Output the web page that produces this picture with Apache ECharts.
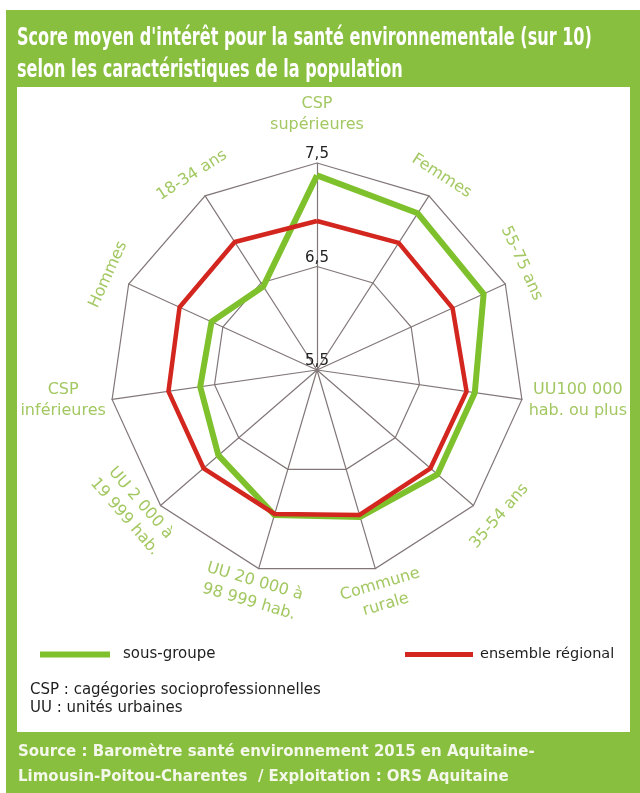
<!DOCTYPE html>
<html><head><meta charset="utf-8">
<script src="https://cdn.jsdelivr.net/npm/echarts@6/dist/echarts.min.js"></script>
<style>html,body{margin:0;padding:0;background:#fff}#c{width:640px;height:793px}</style>
</head><body><div id="c"></div>
<script>
// ---- data (listed clockwise from the top) ----
const categories = ['CSP\nsupérieures','Femmes','55-75 ans','UU100 000\nhab. ou plus','35-54 ans','Commune\nrurale','UU 20 000 à\n98 999 hab.','UU 2 000 à\n19 999 hab.','CSP\ninférieures','Hommes','18-34 ans'];
const sousGroupe = [7.38, 7.30, 7.27, 7.04, 7.04, 6.98, 6.96, 6.76, 6.64, 6.62, 6.46];
const ensembleRegional = [6.94, 6.96, 6.94, 6.96, 6.95, 6.96, 6.95, 6.95, 6.95, 6.96, 6.97];
const axisMin = 5.5, axisMax = 7.5;
const seriesNames = ['sous-groupe', 'ensemble régional'];
const titleLines = ["Score moyen d'intérêt pour la santé environnementale (sur 10)", "selon les caractéristiques de la population"];
const notes = ['CSP : cagégories socioprofessionnelles', 'UU : unités urbaines'];
const sourceText = 'Source : Baromètre santé environnement 2015 en Aquitaine-\nLimousin-Poitou-Charentes  / Exploitation : ORS Aquitaine';

// ---- styles ----
const GREEN_FRAME = '#89BF3E';
const GREEN_LINE = '#7EC12C';
const RED_LINE = '#D3261F';
const LABEL_GREEN = '#A3C862';
const GRID = '#827778';
const FONT = 'DejaVu Sans, sans-serif';
const n = categories.length;
const nameGaps = [28, 13, 13, 6, 16, 6, 3, 3, 4, 12, 14];
const nameStyles = {
  2: { padding: [0, 24, 0, 0] },
  3: { align: 'center', padding: [-12, 0, 0, 100] },
  4: { padding: [0, 0, 0, 18] },
  7: { padding: [0, 30, 0, 0] },
  8: { align: 'center', padding: [-12, 90, 0, 0] }
};

// tangent rotation of each name (kept readable); 0 = horizontal
function nameRot(i) {
  if (i === 0 || i === 3 || i === 8) return 0;
  const deg = i * 360 / n;
  return (deg > 90 && deg < 270) ? 180 - deg : -deg;
}

// ECharts radar runs counter-clockwise: present indicators in reversed order after the first
const order = [0].concat(Array.from({ length: n - 1 }, (_, k) => n - 1 - k));

const indicator = order.map(i => {
  const o = { name: categories[i], min: axisMin, max: axisMax, nameGap: nameGaps[i] };
  const r = nameRot(i);
  if (r !== 0) o.nameRotate = r;
  if (nameStyles[i]) o.nameTextStyle = nameStyles[i];
  if (i === 0) {
    o.axisLabel = {
      show: true, margin: 0, color: '#222', fontSize: 15, fontFamily: FONT,
      align: 'center', verticalAlign: 'bottom', padding: [0, 0, 1, 0],
      formatter: v => String(v).replace('.', ',')
    };
  }
  return o;
});

const chart = echarts.init(document.getElementById('c'), null, { renderer: 'canvas' });
chart.setOption({
  animation: false,
  backgroundColor: '#fff',
  graphic: [
    { type: 'rect', shape: { x: 6, y: 10, width: 640, height: 790 }, style: { fill: GREEN_FRAME }, z: -10 },
    { type: 'rect', shape: { x: 17, y: 87, width: 613, height: 645 }, style: { fill: '#fff' }, z: -9 },
    { type: 'text', x: 17, y: 27, scaleX: 0.67, style: { text: titleLines[0], fill: '#fff', fontSize: 24, fontWeight: 'bold', fontFamily: FONT } },
    { type: 'text', x: 17, y: 59, scaleX: 0.67, style: { text: titleLines[1], fill: '#fff', fontSize: 24, fontWeight: 'bold', fontFamily: FONT } },
    { type: 'text', left: 30, top: 681, style: { text: notes.join('\n'), fill: '#1e1e1e', fontSize: 15, lineHeight: 18, fontFamily: FONT } },
    { type: 'text', left: 18, top: 740, style: { text: sourceText, fill: '#F4F8EA', fontSize: 15, fontWeight: 'bold', lineHeight: 25, fontFamily: FONT } }
  ],
  legend: [
    { data: [seriesNames[0]], left: 35, top: 642, icon: 'rect', itemWidth: 70, itemHeight: 6, itemGap: 10,
      textStyle: { color: '#1e1e1e', fontSize: 15, padding: [0, 0, 0, 8], fontFamily: FONT } },
    { data: [seriesNames[1]], left: 400, top: 642, icon: 'rect', itemWidth: 68, itemHeight: 5, itemGap: 10,
      textStyle: { color: '#1e1e1e', fontSize: 14.5, padding: [0, 0, 0, 2], fontFamily: FONT } }
  ],
  radar: {
    center: [317, 370],
    radius: 207,
    startAngle: 90,
    shape: 'polygon',
    splitNumber: 2,
    indicator: indicator,
    nameGap: 12,
    axisName: { color: LABEL_GREEN, fontSize: 16, lineHeight: 21, fontFamily: FONT },
    axisLine: { lineStyle: { color: GRID, width: 1.2 } },
    splitLine: { lineStyle: { color: GRID, width: 1.2 } },
    splitArea: { show: false },
    axisTick: { show: false },
    axisLabel: { show: false }
  },
  series: [
    { name: seriesNames[0], type: 'radar', symbol: 'none', z: 2,
      itemStyle: { color: GREEN_LINE },
      lineStyle: { color: GREEN_LINE, width: 6 },
      data: [{ value: order.map(i => sousGroupe[i]), name: seriesNames[0] }] },
    { name: seriesNames[1], type: 'radar', symbol: 'none', z: 3,
      itemStyle: { color: RED_LINE },
      lineStyle: { color: RED_LINE, width: 4.5 },
      data: [{ value: order.map(i => ensembleRegional[i]), name: seriesNames[1] }] }
  ]
});
</script></body></html>
